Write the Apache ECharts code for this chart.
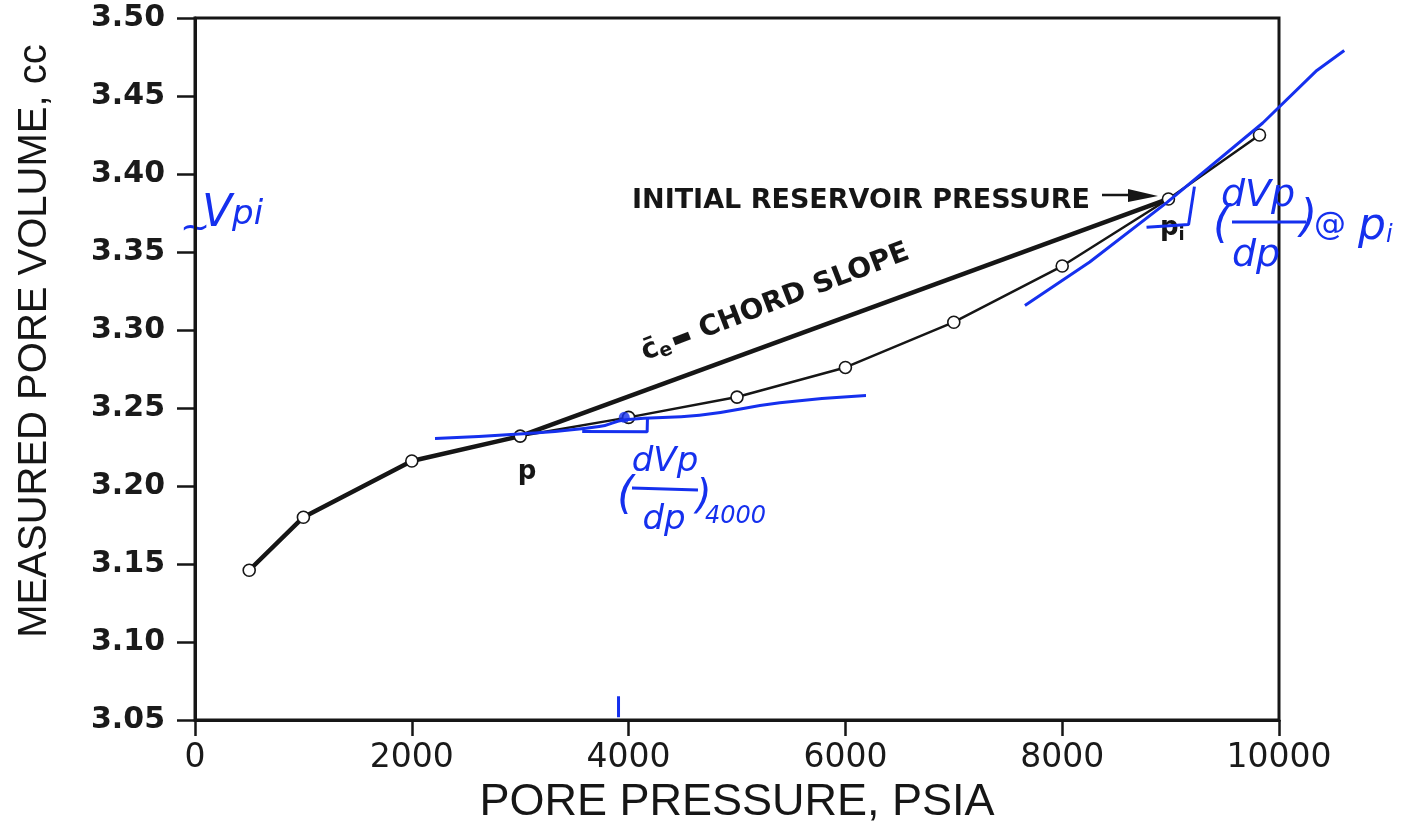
<!DOCTYPE html>
<html>
<head>
<meta charset="utf-8">
<title>Measured pore volume vs pore pressure</title>
<script src="https://cdn.jsdelivr.net/npm/echarts@6.0.0/dist/echarts.min.js"></script>
<style>
  html, body { margin: 0; padding: 0; background: #fff; }
  #container { width: 1402px; height: 825px; }
</style>
</head>
<body>
<div id="container"></div>
<script>
// measured points (psia, cc)
var porePressure = [500, 1000, 2000, 3000, 4000, 5000, 6000, 7000, 8000, 8980, 9820];
var poreVolume = [3.146, 3.180, 3.216, 3.232, 3.244, 3.257, 3.276, 3.305, 3.341, 3.384, 3.425];

// chord from p to pi
var chordPressure = [3000, 8980];
var chordVolume = [3.232, 3.384];

// hand-drawn blue marks
var tangent4000P = [2214, 2990, 3729, 3970, 4654, 5395, 6190];
var tangent4000V = [3.2305, 3.2333, 3.2381, 3.2425, 3.2453, 3.2533, 3.258];
var bracket4000P = [3572, 4171, 4174];
var bracket4000V = [3.235, 3.2347, 3.2436];
var tangentPiP = [7656, 8254, 8967, 9850, 10349, 10602];
var tangentPiV = [3.3157, 3.3436, 3.3818, 3.4327, 3.4664, 3.4792];
var bracketPiP = [8778, 9166, 9220];
var bracketPiV = [3.3658, 3.3676, 3.3919];
var tickMarkP = [3907, 3907];
var tickMarkV = [3.0518, 3.0653];
var dotP = [3960];
var dotV = [3.244];

function zip(a, b) {
    return a.map(function (v, i) { return [v, b[i]]; });
}

var BLACK = '#161616';
var BLUE = '#1530ee';

document.addEventListener('DOMContentLoaded', function () {
    var dom = document.getElementById('container');
    var myChart = echarts.init(dom);

    var blueLine = { color: BLUE, width: 3 };
    var handFont = 'italic 38px "DejaVu Sans"';

    var notes = [
        // printed annotations
        { type: 'text', x: 632, y: 201, style: { text: 'INITIAL RESERVOIR PRESSURE', font: 'bold 27px "DejaVu Sans"', fill: BLACK, textAlign: 'left', textVerticalAlign: 'middle' } },
        { type: 'line', shape: { x1: 1102, y1: 195, x2: 1135, y2: 195 }, style: { stroke: BLACK, lineWidth: 2.5 } },
        { type: 'polygon', shape: { points: [[1128, 189], [1158, 196], [1128, 202]] }, style: { fill: BLACK } },
        { type: 'text', x: 527, y: 472, style: { text: 'p', font: 'bold 26px "DejaVu Sans"', fill: BLACK, textAlign: 'center', textVerticalAlign: 'middle' } },
        {
            type: 'text', x: 1160, y: 228,
            style: {
                text: '{p|p}{i|i}', fill: BLACK, textAlign: 'left', textVerticalAlign: 'middle',
                rich: {
                    p: { font: 'bold 26px "DejaVu Sans"', fill: BLACK },
                    i: { font: 'bold 18px "DejaVu Sans"', fill: BLACK, padding: [14, 0, 0, 0] }
                }
            }
        },
        {
            type: 'text', x: 648, y: 368, rotation: 21 * Math.PI / 180,
            style: {
                text: '{c|c\u0304}{e|e}{d|\u25AC} CHORD SLOPE', font: 'bold 28px "DejaVu Sans"', fill: BLACK,
                textAlign: 'left', textVerticalAlign: 'bottom',
                rich: {
                    c: { font: 'bold 28px "DejaVu Sans"', fill: BLACK },
                    e: { font: 'bold 19px "DejaVu Sans"', fill: BLACK, padding: [12, 2, 0, 0] },
                    d: { font: 'bold 22px "DejaVu Sans"', fill: BLACK }
                }
            }
        },
        // hand-written blue notes
        { type: 'text', x: 180, y: 230, style: { text: '~', font: '36px "DejaVu Sans"', fill: BLUE, textAlign: 'left', textVerticalAlign: 'middle' } },
        {
            type: 'text', x: 202, y: 215,
            style: {
                text: '{v|V}{p|pi}', textAlign: 'left', textVerticalAlign: 'middle',
                rich: {
                    v: { font: 'italic 44px "DejaVu Sans"', fill: BLUE },
                    p: { font: 'italic 34px "DejaVu Sans"', fill: BLUE }
                }
            }
        },
        { type: 'text', x: 1213, y: 226, style: { text: '(', font: 'italic 44px "DejaVu Sans"', fill: BLUE, textAlign: 'left', textVerticalAlign: 'middle' } },
        { type: 'text', x: 1258, y: 196, style: { text: 'dVp', font: handFont, fill: BLUE, textAlign: 'center', textVerticalAlign: 'middle' } },
        { type: 'line', shape: { x1: 1232, y1: 222, x2: 1306, y2: 222 }, style: { stroke: BLUE, lineWidth: 3 } },
        { type: 'text', x: 1256, y: 256, style: { text: 'dp', font: handFont, fill: BLUE, textAlign: 'center', textVerticalAlign: 'middle' } },
        { type: 'text', x: 1300, y: 220, style: { text: ')', font: 'italic 44px "DejaVu Sans"', fill: BLUE, textAlign: 'left', textVerticalAlign: 'middle' } },
        { type: 'text', x: 1314, y: 226, style: { text: '@', font: '32px "DejaVu Sans"', fill: BLUE, textAlign: 'left', textVerticalAlign: 'middle' } },
        {
            type: 'text', x: 1358, y: 228,
            style: {
                text: '{p|p}{i|i}', textAlign: 'left', textVerticalAlign: 'middle',
                rich: {
                    p: { font: 'italic 44px "DejaVu Sans"', fill: BLUE },
                    i: { font: 'italic 24px "DejaVu Sans"', fill: BLUE, padding: [16, 0, 0, 0] }
                }
            }
        },
        { type: 'text', x: 617, y: 497, style: { text: '(', font: 'italic 44px "DejaVu Sans"', fill: BLUE, textAlign: 'left', textVerticalAlign: 'middle' } },
        { type: 'text', x: 665, y: 462, style: { text: 'dVp', font: 'italic 34px "DejaVu Sans"', fill: BLUE, textAlign: 'center', textVerticalAlign: 'middle' } },
        { type: 'line', shape: { x1: 632, y1: 488, x2: 698, y2: 490 }, style: { stroke: BLUE, lineWidth: 3 } },
        { type: 'text', x: 664, y: 520, style: { text: 'dp', font: 'italic 34px "DejaVu Sans"', fill: BLUE, textAlign: 'center', textVerticalAlign: 'middle' } },
        { type: 'text', x: 696, y: 498, style: { text: ')', font: 'italic 40px "DejaVu Sans"', fill: BLUE, textAlign: 'left', textVerticalAlign: 'middle' } },
        { type: 'text', x: 705, y: 517, style: { text: '4000', font: 'italic 24px "DejaVu Sans"', fill: BLUE, textAlign: 'left', textVerticalAlign: 'middle' } }
    ];

    var option = {
        animation: false,
        grid: {
            left: 195, right: 123, top: 18, bottom: 105,
            show: true, borderColor: BLACK, borderWidth: 3,
            outerBoundsMode: 'none'
        },
        xAxis: {
            type: 'value', min: 0, max: 10000, interval: 2000,
            axisLine: { show: true, onZero: false, lineStyle: { color: BLACK, width: 3 } },
            axisTick: { show: true, length: 16, lineStyle: { color: BLACK, width: 2.5 } },
            axisLabel: {
                fontFamily: 'DejaVu Sans', fontSize: 33, color: '#1a1a1a', margin: 22,
                formatter: function (v) { return String(v); }
            },
            splitLine: { show: false },
            name: 'PORE PRESSURE, PSIA',
            nameLocation: 'middle',
            nameGap: 56,
            nameTextStyle: { fontFamily: 'Liberation Sans', fontSize: 45, color: BLACK }
        },
        yAxis: {
            type: 'value', min: 3.05, max: 3.5, interval: 0.05,
            axisLine: { show: true, onZero: false, lineStyle: { color: BLACK, width: 3 } },
            axisTick: { show: true, length: 18, lineStyle: { color: BLACK, width: 2.5 } },
            axisLabel: {
                fontFamily: 'DejaVu Sans', fontWeight: 'bold', fontSize: 30, color: '#1a1a1a', margin: 30,
                formatter: function (v) { return v.toFixed(2); }
            },
            splitLine: { show: false },
            name: 'MEASURED PORE VOLUME, cc',
            nameLocation: 'middle',
            nameGap: 140,
            nameTextStyle: { fontFamily: 'Liberation Sans', fontSize: 40, color: BLACK, padding: [0, 0, 0, 56] }
        },
        series: [
            {
                // thick segment through the low-pressure points
                type: 'line', z: 1, symbol: 'none',
                data: zip(porePressure.slice(0, 4), poreVolume.slice(0, 4)),
                lineStyle: { color: BLACK, width: 4.5 }
            },
            {
                // chord slope
                type: 'line', z: 1, symbol: 'none',
                data: zip(chordPressure, chordVolume),
                lineStyle: { color: BLACK, width: 4.5 }
            },
            {
                type: 'line', z: 2,
                data: zip(porePressure, poreVolume),
                symbol: 'circle', symbolSize: 12,
                itemStyle: { color: '#fff', borderColor: BLACK, borderWidth: 1.6 },
                lineStyle: { color: BLACK, width: 2.5 }
            },
            { type: 'line', z: 5, symbol: 'none', smooth: true, data: zip(tangent4000P, tangent4000V), lineStyle: blueLine },
            { type: 'line', z: 5, symbol: 'none', data: zip(bracket4000P, bracket4000V), lineStyle: blueLine },
            { type: 'line', z: 5, symbol: 'none', data: zip(bracketPiP, bracketPiV), lineStyle: blueLine },
            { type: 'line', z: 5, symbol: 'none', data: zip(tickMarkP, tickMarkV), lineStyle: blueLine },
            { type: 'scatter', z: 6, symbolSize: 11, data: zip(dotP, dotV), itemStyle: { color: BLUE } }
        ],
        graphic: notes
    };

    myChart.setOption(option);

    // the tangent at pi runs past the right edge of the frame, so it is drawn
    // unclipped from the axis scales once the grid is laid out
    var tangentPts = zip(tangentPiP, tangentPiV).map(function (d) {
        return myChart.convertToPixel({ gridIndex: 0 }, d);
    });
    myChart.setOption({
        graphic: notes.concat([{
            type: 'polyline', z: 10,
            shape: { points: tangentPts },
            style: { stroke: BLUE, lineWidth: 3, fill: null, lineJoin: 'round' }
        }])
    });

    window.addEventListener('resize', myChart.resize);
});
</script>
</body>
</html>
